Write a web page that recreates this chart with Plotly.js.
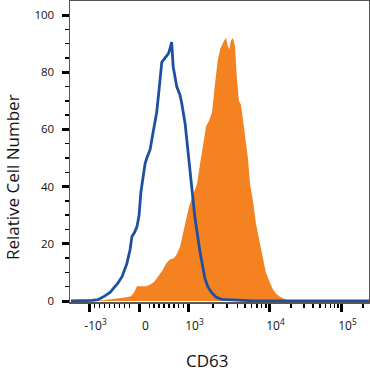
<!DOCTYPE html>
<html>
<head>
<meta charset="utf-8">
<script src="https://cdn.plot.ly/plotly-3.0.1.min.js"></script>
<style>
html,body{margin:0;padding:0;background:#fff;}
#chart{width:370px;height:372px;}
</style>
</head>
<body>
<div id="chart"></div>
<script>
// Histogram bins are on the biexponential display scale (channel 0..1000)
const isotypeChannel = [3, 50, 74, 94, 100, 114, 134, 150, 160, 174, 190, 201, 207, 216, 224, 231, 237, 244, 251, 257, 268, 278, 290, 296, 301, 307, 318, 329, 334, 340, 345, 357, 368, 374, 385, 396, 407, 418, 435, 451, 461, 474, 488, 507, 535, 574, 619, 1000];
const isotypeCount   = [0, 0, 0.2, 0.5, 0.8, 1.6, 3, 4.8, 6.2, 8.5, 13, 18, 22.5, 24, 26, 30, 38, 43, 48, 50, 53, 59, 66, 72, 77, 83.5, 85, 86.5, 88, 90.5, 82, 75, 72, 69, 62, 50, 40, 29, 17, 8, 5, 2.9, 1.4, 0.6, 0.4, 0.2, 0, 0];

const cd63Channel = [87, 117, 150, 184, 204, 214, 224, 254, 268, 281, 294, 308, 321, 334, 348, 358, 368, 378, 388, 398, 411, 425, 435, 445, 455, 465, 475, 485, 494, 502, 508, 515, 522, 528, 533, 538, 545, 552, 558, 565, 572, 579, 585, 595, 602, 612, 622, 632, 642, 655, 669, 679, 689, 702, 719, 739, 1000];
const cd63Count   = [0, 0.3, 0.8, 1.2, 1.7, 3, 5.2, 5.2, 5.8, 6.6, 8.5, 10.5, 13, 14.5, 15, 16.5, 19, 24, 29, 33, 37, 41, 48, 55, 61, 63, 66, 76, 84, 88, 89.5, 91, 92, 89, 88, 91, 92, 89, 78, 70, 68.5, 63, 58.5, 50, 41, 35, 27, 22, 17, 10, 6.4, 4, 2.5, 1.5, 0.6, 0, 0];

// Axis ticks (fluorescence values) and labels
const majorTickValues = [-1000, 0, 1000, 10000, 100000];
const majorTickLabels = ['-10<sup>3</sup>', '0', '10<sup>3</sup>', '10<sup>4</sup>', '10<sup>5</sup>'];
const zeroClusterValues = [-150, -100, -50, 0, 50, 100, 150];
const linearMinorValues = [-900, -800, -700, -600, -500, -400, -300, -200, 200, 300, 400, 500, 600, 700, 800, 900];
const logMinorMultipliers = [2, 3, 4, 5, 6, 7, 8, 9];
const logMinorDecades = [1000, 10000];
const extraMinorValues = [200000];
const yMajorTicks = [0, 20, 40, 60, 80, 100];

// Biexponential display scale: value -> channel
const scaleLinV = [-1000, 0, 1000];
const scaleLinC = [65.2, 232.4, 396.3];
const scaleLogV = [1000, 10000, 100000];
const scaleLogC = [396.3, 667.2, 908.0];
function chan(v) {
  if (v <= 1000) {
    if (v <= 0) return scaleLinC[1] + (scaleLinC[1] - scaleLinC[0]) * v / 1000;
    return scaleLinC[1] + (scaleLinC[2] - scaleLinC[1]) * v / 1000;
  }
  const l = Math.log10(v);
  let i = l < 4 ? 0 : 1;
  const l0 = Math.log10(scaleLogV[i]);
  return scaleLogC[i] + (scaleLogC[i + 1] - scaleLogC[i]) * (l - l0);
}

const minorVals = linearMinorValues.slice();
logMinorDecades.forEach(d => logMinorMultipliers.forEach(k => minorVals.push(k * d)));
extraMinorValues.forEach(v => minorVals.push(v));

const FONT = 'Open Sans, Noto Sans, DejaVu Sans, sans-serif';

const traces = [
  {
    x: cd63Channel, y: cd63Count, type: 'scatter', mode: 'lines',
    fill: 'tozeroy', fillcolor: '#f58220',
    line: {width: 0, color: '#f58220'}, hoverinfo: 'skip', showlegend: false
  },
  {
    x: isotypeChannel, y: isotypeCount, type: 'scatter', mode: 'lines',
    line: {width: 2.8, color: '#1f50a0'}, hoverinfo: 'skip', showlegend: false
  }
];

const layout = {
  width: 370, height: 372,
  margin: {l: 70, r: 1, t: 1, b: 70},
  paper_bgcolor: '#fff', plot_bgcolor: '#fff',
  font: {family: FONT, color: '#111'},
  showlegend: false,
  xaxis: {
    range: [0, 1000], showgrid: false, zeroline: false,
    showline: true, linecolor: '#555', linewidth: 1.5, mirror: true,
    ticks: 'outside', ticklen: 8, tickwidth: 3, tickcolor: '#000',
    tickmode: 'array',
    tickvals: majorTickValues.map(chan),
    ticktext: majorTickLabels,
    ticklabelshift: 6,
    ticklabelstandoff: 4,
    tickfont: {size: 12, family: FONT, color: '#111'},
    minor: {
      tickmode: 'array', tickvals: minorVals.map(chan),
      ticks: 'outside', ticklen: 4, tickwidth: 1.5, tickcolor: '#000', showgrid: false
    }
  },
  xaxis2: {
    overlaying: 'x', anchor: 'y', side: 'bottom', range: [0, 1000],
    showgrid: false, zeroline: false, showline: false,
    ticks: 'outside', ticklen: 8, tickwidth: 2, tickcolor: '#000',
    tickmode: 'array', tickvals: zeroClusterValues.map(chan), showticklabels: false
  },
  yaxis: {
    range: [-0.35, 104.9], showgrid: false, zeroline: false,
    showline: true, linecolor: '#555', linewidth: 1.5, mirror: true,
    ticks: 'outside', ticklen: 7, tickwidth: 3, tickcolor: '#000',
    tickmode: 'array', tickvals: yMajorTicks,
    ticktext: yMajorTicks.map(String),
    ticklabelstandoff: 5,
    tickfont: {size: 11.5, family: FONT, color: '#111'},
    minor: {dtick: 5, ticks: 'outside', ticklen: 4, tickwidth: 1.5, tickcolor: '#000', showgrid: false}
  },
  annotations: [
    {
      text: 'CD63', xref: 'paper', yref: 'paper', x: 0.458, y: -0.193,
      xanchor: 'center', yanchor: 'middle', showarrow: false,
      font: {size: 17, family: FONT, color: '#111'}
    },
    {
      text: 'Relative Cell Number', xref: 'paper', yref: 'paper', x: -0.194, y: 0.415,
      xanchor: 'center', yanchor: 'middle', textangle: -90, showarrow: false,
      font: {size: 17, family: FONT, color: '#111'}
    }
  ]
};

Plotly.newPlot('chart', traces, layout, {displayModeBar: false, staticPlot: true});
</script>
</body>
</html>
